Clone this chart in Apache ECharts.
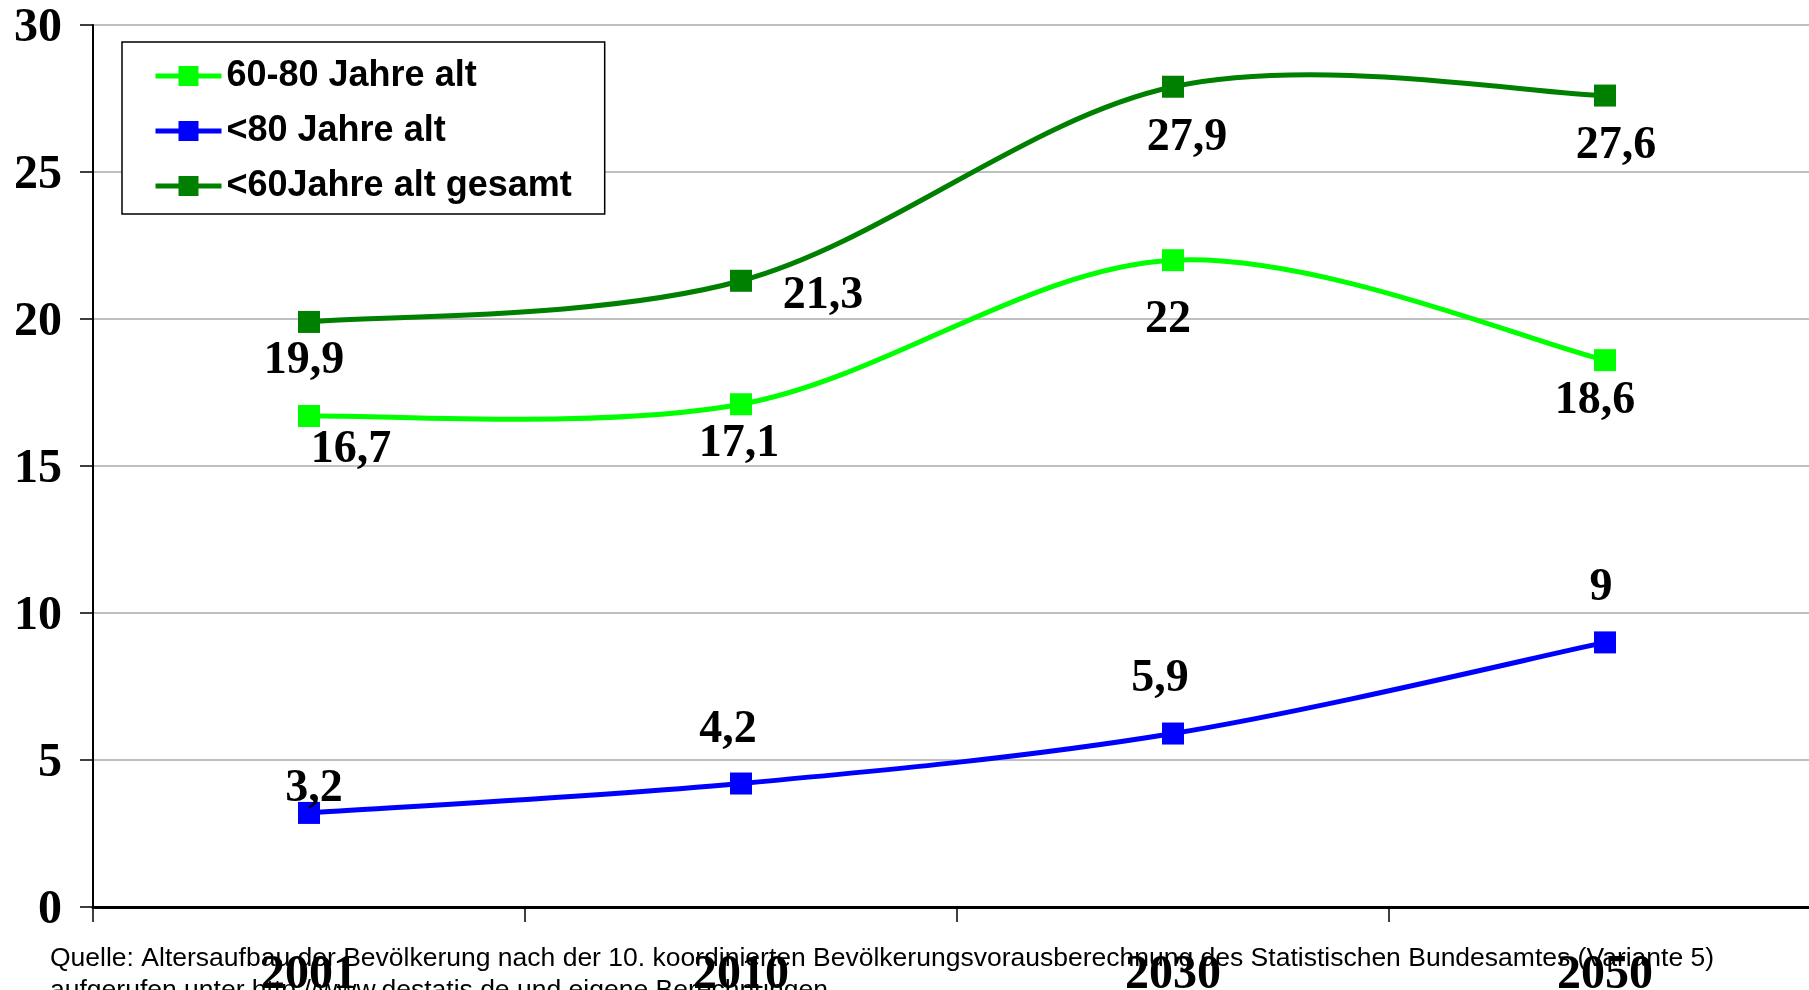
<!DOCTYPE html>
<html>
<head>
<meta charset="utf-8">
<script src="https://cdn.jsdelivr.net/npm/echarts@6/dist/echarts.min.js"></script>
<style>
  html, body { margin: 0; padding: 0; background: #fff; }
  #chart { width: 1809px; height: 990px; }
</style>
</head>
<body>
<div id="chart"></div>
<script>
  // Jahre (Kategorien)
  var years = ['2001', '2010', '2030', '2050']
  // Anteile in Prozent
  var alt6080 = [16.7, 17.1, 22, 18.6]
  var alt80 = [3.2, 4.2, 5.9, 9]
  var alt60gesamt = [19.9, 21.3, 27.9, 27.6]
  var yTicks = [0, 5, 10, 15, 20, 25, 30]

  // Verschiebung der Beschriftungen gegenueber dem Punkt (nur Stil)
  var off6080 = [[42, 34], [-2, 40], [-5, 60], [-10, 41]]
  var off80 = [[5, -24], [-13, -53], [-13, -54], [-4, -54]]
  var off60 = [[-5, 39], [82, 15], [14, 51], [11, 51]]

  var serif = '"Liberation Serif", "Times New Roman", serif'
  var sans = '"Liberation Sans", Arial, sans-serif'

  function items(values, offsets) {
    var arr = []
    for (var i = 0; i < values.length; i++) {
      arr.push({ value: values[i], label: { offset: offsets[i] } })
    }
    return arr
  }

  // Punkte + Beschriftung (Linie selbst unsichtbar, wird unten als Kurve gezeichnet)
  function pointSeries(name, values, offsets, color) {
    return {
      name: name,
      type: 'line',
      data: items(values, offsets),
      symbol: 'rect',
      symbolSize: 22,
      color: color,
      lineStyle: { width: 5, color: color, opacity: 0 },
      itemStyle: { color: color },
      label: {
        show: true,
        position: 'inside',
        color: '#000',
        fontFamily: serif,
        fontWeight: 'bold',
        fontSize: 46,
        formatter: function (p) { return String(p.value).replace('.', ',') }
      },
      emphasis: { disabled: true },
      z: 4
    }
  }

  // geglaettete Linie wie in Excel (Bezier, Kontrollpunkte aus Nachbarpunkten)
  function curveSeries(values, color) {
    var pairs = []
    for (var i = 0; i < values.length; i++) pairs.push([years[i], values[i]])
    return {
      type: 'custom',
      data: pairs,
      encode: { x: 0, y: 1 },
      silent: true,
      z: 3,
      renderItem: function (params, api) {
        if (params.dataIndex !== 0) return null
        var pts = []
        for (var i = 0; i < values.length; i++) pts.push(api.coord([i, values[i]]))
        var children = []
        var n = pts.length
        for (var k = 0; k < n - 1; k++) {
          var p0 = pts[Math.max(k - 1, 0)]
          var p1 = pts[k]
          var p2 = pts[k + 1]
          var p3 = pts[Math.min(k + 2, n - 1)]
          children.push({
            type: 'bezierCurve',
            shape: {
              x1: p1[0], y1: p1[1],
              cpx1: p1[0] + (p2[0] - p0[0]) / 6, cpy1: p1[1] + (p2[1] - p0[1]) / 6,
              cpx2: p2[0] - (p3[0] - p1[0]) / 6, cpy2: p2[1] - (p3[1] - p1[1]) / 6,
              x2: p2[0], y2: p2[1]
            },
            style: { stroke: color, lineWidth: 5, fill: null, lineCap: 'round' }
          })
        }
        return { type: 'group', children: children }
      }
    }
  }

  var myChart = echarts.init(document.getElementById('chart'))
  var option = {
    animation: false,
    backgroundColor: '#fff',
    grid: {
      left: 93,
      top: 25,
      width: 1728,
      height: 882,
      containLabel: false,
      outerBoundsMode: 'none',
      show: true,
      borderColor: '#000',
      borderWidth: 2,
      backgroundColor: 'transparent'
    },
    legend: {
      orient: 'vertical',
      left: 122,
      top: 42,
      padding: [16, 33, 10, 31],
      itemGap: 19,
      itemWidth: 66,
      itemHeight: 25,
      borderColor: '#000',
      borderWidth: 1.5,
      backgroundColor: '#fff',
      lineStyle: { width: 5, opacity: 1 },
      textStyle: { color: '#000', fontFamily: sans, fontWeight: 'bold', fontSize: 36 },
      data: ['60-80 Jahre alt', '<80 Jahre alt', '<60Jahre alt gesamt']
    },
    xAxis: {
      type: 'category',
      data: years,
      boundaryGap: true,
      axisLine: { lineStyle: { color: '#000', width: 3 } },
      axisTick: { show: true, length: 15, lineStyle: { color: '#000', width: 1.5 } },
      axisLabel: {
        color: '#000',
        fontFamily: serif,
        fontWeight: 'bold',
        fontSize: 48,
        margin: 45
      },
      splitLine: { show: false }
    },
    yAxis: {
      type: 'value',
      min: yTicks[0],
      max: yTicks[yTicks.length - 1],
      interval: 5,
      axisLine: { show: true, lineStyle: { color: '#000', width: 2 } },
      axisTick: { show: true, length: 13, lineStyle: { color: '#000', width: 1.5 } },
      axisLabel: {
        margin: 31,
        formatter: function (v) { return '{n|' + v + '}' },
        rich: {
          n: {
            color: '#000',
            fontFamily: serif,
            fontWeight: 'bold',
            fontSize: 48,
            padding: [8, 0, 0, 0]
          }
        }
      },
      splitLine: { lineStyle: { color: '#c0c0c0', width: 2 } }
    },
    graphic: [
      {
        type: 'text',
        left: 50,
        top: 945,
        z: 1,
        style: {
          text: 'Quelle: Altersaufbau der Bevölkerung nach der 10. koordinierten Bevölkerungsvorausberechnung des Statistischen Bundesamtes (Variante 5)',
          fill: '#000',
          font: '26.5px ' + sans
        }
      },
      {
        type: 'text',
        left: 50,
        top: 977,
        z: 1,
        style: {
          text: 'aufgerufen unter http://www.destatis.de und eigene Berechnungen',
          fill: '#000',
          font: '26.5px ' + sans
        }
      }
    ],
    series: [
      pointSeries('60-80 Jahre alt', alt6080, off6080, '#00ff00'),
      pointSeries('<80 Jahre alt', alt80, off80, '#0000ff'),
      pointSeries('<60Jahre alt gesamt', alt60gesamt, off60, '#008000'),
      curveSeries(alt6080, '#00ff00'),
      curveSeries(alt80, '#0000ff'),
      curveSeries(alt60gesamt, '#008000')
    ]
  }
  myChart.setOption(option, true)
</script>
</body>
</html>
